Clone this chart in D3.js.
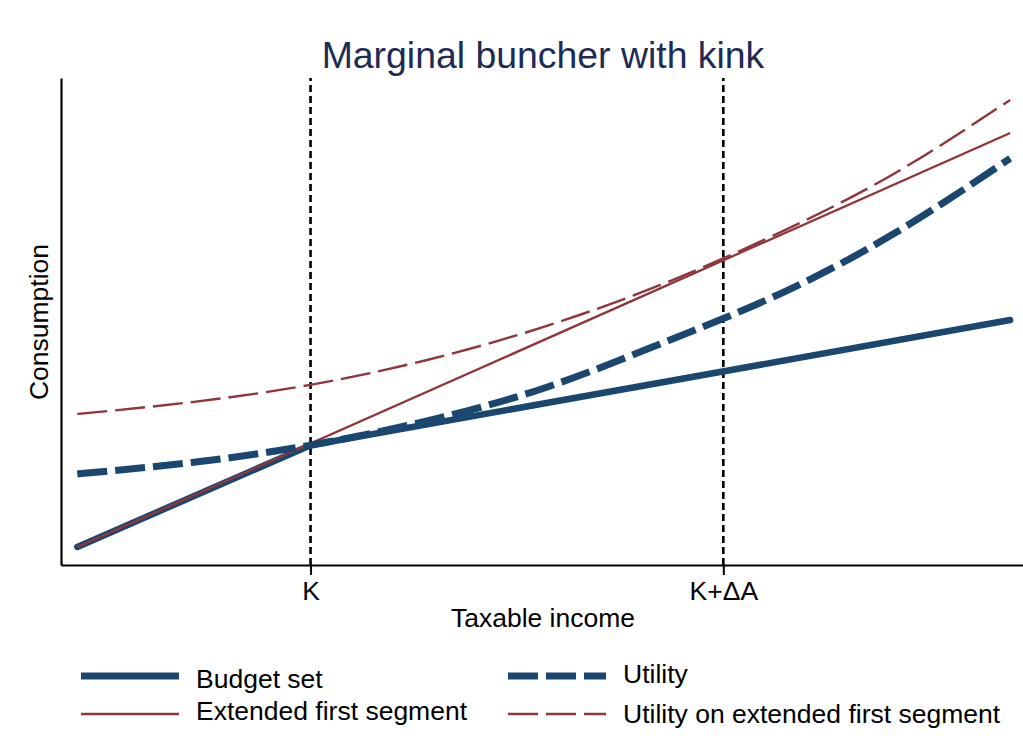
<!DOCTYPE html>
<html>
<head>
<meta charset="utf-8">
<script src="https://cdn.jsdelivr.net/npm/d3@7"></script>
<style>
  body { margin: 0; background: #fff; }
  svg { display: block; font-family: "Liberation Sans", Arial, Helvetica, sans-serif; }
</style>
</head>
<body>
<svg width="1023" height="738"></svg>
<script>
// Values (x: income with K = 1, y: consumption)

const tickValues = [1, 2.77];
const tickLabels = ["K", "K+\u0394A"];

const budgetX = [0, 1, 4];
const budgetY = [0.37, 2.46, 5.03];

const extendedX = [0, 4];
const extendedY = [0.37, 8.87];

const utilityX = [0, 0.5, 1, 1.5, 2, 2.5, 3, 3.5, 4];
const utilityY = [1.87, 2.11, 2.46, 2.96, 3.63, 4.54, 5.54, 6.8, 8.35];

const utilityExtX = [0, 0.5, 1, 1.5, 2, 2.5, 3, 3.5, 4];
const utilityExtY = [3.1, 3.35, 3.7, 4.21, 4.89, 5.75, 6.8, 8.03, 9.55];

const legendLabels = [
  "Budget set",
  "Utility",
  "Extended first segment",
  "Utility on extended first segment",
];

const NAVY = "#1a476f";
const MAROON = "#90353b";

let svg = d3.select("svg"),
  width = +svg.attr("width"),
  height = +svg.attr("height");

let x = d3.scaleLinear().domain([-0.07, 4.055]).range([61, 1023]);
let y = d3.scaleLinear().domain([0, 10]).range([565, 78]);

function pairs(xs, ys) {
  return xs.map(function (d, i) {
    return [d, ys[i]];
  });
}

let straight = d3
  .line()
  .x(function (d) { return x(d[0]); })
  .y(function (d) { return y(d[1]); });

let smooth = d3
  .line()
  .curve(d3.curveNatural)
  .x(function (d) { return x(d[0]); })
  .y(function (d) { return y(d[1]); });

// title
svg
  .append("text")
  .attr("x", 543)
  .attr("y", 68)
  .attr("text-anchor", "middle")
  .attr("font-size", 37.4)
  .attr("fill", "#1e2b55")
  .text("Marginal buncher with kink");

// dotted reference lines at K and K+dA
svg
  .append("g")
  .selectAll("line")
  .data(tickValues)
  .enter()
  .append("line")
  .attr("x1", function (d) { return x(d); })
  .attr("x2", function (d) { return x(d); })
  .attr("y1", y(0))
  .attr("y2", y(10))
  .attr("stroke", "#000")
  .attr("stroke-width", 2.6)
  .attr("stroke-dasharray", "7,4");

// axes
let xAxis = d3
  .axisBottom(x)
  .tickValues(tickValues)
  .tickFormat(function (d, i) { return tickLabels[i]; })
  .tickSize(10)
  .tickSizeOuter(0)
  .tickPadding(6);

let gx = svg
  .append("g")
  .attr("transform", "translate(0," + y(0) + ")")
  .call(xAxis);
gx.select(".domain").attr("stroke", "#000").attr("stroke-width", 2.2);
gx.selectAll(".tick line").attr("stroke", "#000").attr("stroke-width", 2);
gx.selectAll(".tick text")
  .attr("font-size", 26.5)
  .attr("font-family", "Liberation Sans, Arial, sans-serif")
  .attr("fill", "#000");

let gy = svg
  .append("g")
  .attr("transform", "translate(" + x(-0.07) + ",0)")
  .call(d3.axisLeft(y).tickValues([]).tickSizeOuter(0));
gy.select(".domain").attr("stroke", "#000").attr("stroke-width", 2.2);

svg
  .append("text")
  .attr("x", 543)
  .attr("y", 627)
  .attr("text-anchor", "middle")
  .attr("font-size", 26.5)
  .text("Taxable income");

svg
  .append("text")
  .attr("transform", "translate(48,322) rotate(-90)")
  .attr("text-anchor", "middle")
  .attr("font-size", 26.5)
  .text("Consumption");

// plotted lines
let plot = svg.append("g").attr("fill", "none");

plot
  .append("path")
  .attr("d", straight(pairs(budgetX, budgetY)))
  .attr("stroke", NAVY)
  .attr("stroke-width", 6.5)
  .attr("stroke-linecap", "round")
  .attr("stroke-linejoin", "round");

plot
  .append("path")
  .attr("d", straight(pairs(extendedX, extendedY)))
  .attr("stroke", MAROON)
  .attr("stroke-width", 2.3);

plot
  .append("path")
  .attr("d", smooth(pairs(utilityX, utilityY)))
  .attr("stroke", NAVY)
  .attr("stroke-width", 7)
  .attr("stroke-dasharray", "30,8");

plot
  .append("path")
  .attr("d", smooth(pairs(utilityExtX, utilityExtY)))
  .attr("stroke", MAROON)
  .attr("stroke-width", 2.4)
  .attr("stroke-dasharray", "30,8");

// legend
let legendStyle = [
  { x: 81, sy: 676, ty: 688, color: NAVY, w: 7, dash: null },
  { x: 508, sy: 676, ty: 683, color: NAVY, w: 7, dash: "30,8" },
  { x: 81, sy: 714, ty: 720, color: MAROON, w: 2.6, dash: null },
  { x: 508, sy: 714, ty: 723, color: MAROON, w: 2.6, dash: "30,8" },
];

let legend = svg
  .append("g")
  .selectAll("g")
  .data(legendLabels)
  .enter()
  .append("g");

legend
  .append("line")
  .attr("x1", function (d, i) { return legendStyle[i].x; })
  .attr("x2", function (d, i) { return legendStyle[i].x + 98; })
  .attr("y1", function (d, i) { return legendStyle[i].sy; })
  .attr("y2", function (d, i) { return legendStyle[i].sy; })
  .attr("stroke", function (d, i) { return legendStyle[i].color; })
  .attr("stroke-width", function (d, i) { return legendStyle[i].w; })
  .attr("stroke-dasharray", function (d, i) { return legendStyle[i].dash; });

legend
  .append("text")
  .attr("x", function (d, i) { return legendStyle[i].x + 115; })
  .attr("y", function (d, i) { return legendStyle[i].ty; })
  .attr("font-size", 26.5)
  .text(function (d) { return d; });
</script>
</body>
</html>
